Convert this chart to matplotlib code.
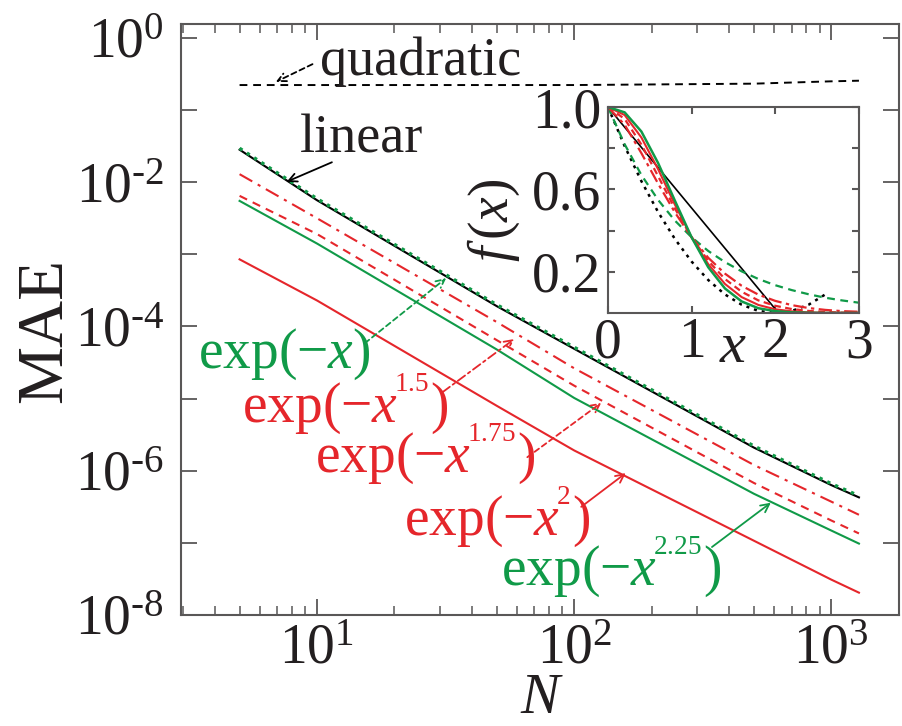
import matplotlib
matplotlib.use("Agg")
import matplotlib.pyplot as plt

plt.rcParams['font.family'] = ['Liberation Serif', 'DejaVu Serif']
plt.rcParams['mathtext.fontset'] = 'custom'
plt.rcParams['mathtext.rm'] = 'Liberation Serif'
plt.rcParams['mathtext.it'] = 'Liberation Serif:italic'
plt.rcParams['mathtext.bf'] = 'Liberation Serif:bold'

TXT = '#231f20'
AX = '#595757'
RED = '#e5262b'
GREEN = '#109a48'

# main panel: MAE vs N
N = [5, 10, 50, 100, 500, 1000, 1280]
mae_quadratic = [0.222, 0.222, 0.222, 0.222, 0.232, 0.250, 0.255]
mae_linear = [2.82e-2, 5.62e-3, 1.91e-4, 4.90e-5, 2.09e-6, 6.31e-7, 4.27e-7]
mae_exp1 = [2.95e-2, 5.9e-3, 2.0e-4, 5.15e-5, 2.2e-6, 6.6e-7, 4.5e-7]
mae_exp15 = [1.29e-2, 3.16e-3, 1.15e-4, 2.63e-5, 1.20e-6, 3.72e-7, 2.45e-7]
mae_exp175 = [6.46e-3, 1.91e-3, 6.46e-5, 1.51e-5, 6.76e-7, 2.04e-7, 1.35e-7]
mae_exp2 = [8.51e-4, 2.29e-4, 7.94e-6, 1.91e-6, 1.07e-7, 3.09e-8, 2.04e-8]
mae_exp225 = [5.50e-3, 1.41e-3, 4.79e-5, 1.02e-5, 4.79e-7, 1.48e-7, 9.77e-8]

ytick_vals = [1e0, 1e-1, 1e-2, 1e-3, 1e-4, 1e-5, 1e-6, 1e-7, 1e-8]
ytick_labels = [r'$10^{0}$', '', r'$10^{‐2}$', '', r'$10^{‐4}$', '', r'$10^{‐6}$', '', r'$10^{‐8}$']
xtick_vals = [10, 100, 1000]
xtick_labels = [r'$10^{1}$', r'$10^{2}$', r'$10^{3}$']

# inset: f(x)
xs = [0, 0.2, 0.4, 0.6, 0.8, 1.0, 1.2, 1.4, 1.6, 1.8, 2.0, 2.2, 2.4, 2.6, 2.8, 3.0]
f_exp1 = [1, .819, .670, .549, .449, .368, .301, .247, .202, .165, .135, .111, .091, .074, .061, .050]
f_exp15 = [1, .914, .776, .628, .489, .368, .268, .191, .132, .089, .059, .038, .024, .015, .009, .006]
f_exp175 = [1, .942, .818, .664, .508, .368, .253, .165, .103, .061, .035, .019, .010, .005, .002, .001]
f_exp2 = [1, .961, .852, .698, .527, .368, .237, .141, .077, .039, .018, .008, .003, .001, 0, 0]
f_exp225 = [1, .974, .881, .728, .546, .368, .222, .119, .056, .023, .009, .003, .001, 0, 0, 0]
xs_lin = [0, 2.0]
f_lin = [1, 0.02]
xs_quad = [0, 0.2, 0.4, 0.6, 0.8, 1.0, 1.2, 1.4, 1.6, 1.8, 2.0, 2.2, 2.4, 2.6]
f_quad = [1, .81, .64, .49, .36, .25, .16, .09, .04, .01, 0, .01, .04, .09]

fig = plt.figure(figsize=(9.02, 7.26), dpi=100)
ax = fig.add_axes([0.2007, 0.1529, 0.7965, 0.8141])

lw = 1.5
ax.plot(N, mae_quadratic, color='black', lw=1.4, ls=(0, (4, 3)))
ax.plot(N, mae_linear, color='black', lw=lw)
ax.plot(N, mae_exp1, color=GREEN, lw=2.4, ls=(0, (1, 1.6)))
ax.plot(N, mae_exp15, color=RED, lw=lw, ls=(0, (7, 3, 1.5, 3)))
ax.plot(N, mae_exp175, color=RED, lw=lw, ls=(0, (4, 3)))
ax.plot(N, mae_exp225, color=GREEN, lw=lw)
ax.plot(N, mae_exp2, color=RED, lw=lw)

ax.set_xscale('log')
ax.set_yscale('log')
ax.set_xlim(2.96, 1840)
ax.set_ylim(1e-8, 1.56)
ax.set_yticks(ytick_vals)
ax.set_yticklabels(ytick_labels)
ax.set_xticks(xtick_vals)
ax.set_xticklabels(xtick_labels)
ax.tick_params(which='both', direction='in', top=True, right=True, colors=AX,
               labelcolor=TXT, labelsize=40)
ax.tick_params(which='major', length=11.5, width=1.3)
ax.tick_params(which='minor', length=6.5, width=1.1)
ax.tick_params(axis='y', pad=12)
ax.tick_params(axis='x', pad=6)
for s in ax.spines.values():
    s.set_color(AX)
    s.set_linewidth(1.5)

fig.text(0.05, 0.545, 'MAE', rotation=90, ha='center', va='center', fontsize=47, color=TXT)
fig.text(0.599, 0.018, 'N', style='italic', ha='center', va='baseline', fontsize=42, color=TXT)

# labels and arrows (axes fraction)
labels = [
    ('quadratic', (0.194, 0.914), TXT, (0.183, 0.932), (0.132, 0.902), (0, (3, 2))),
    ('linear', (0.165, 0.782), TXT, (0.210, 0.766), (0.147, 0.733), '-'),
    (r'$\mathrm{exp}(-x)$', (0.024, 0.418), GREEN, (0.256, 0.460), (0.369, 0.570), (0, (3, 2))),
    (r'$\mathrm{exp}(-x^{\!{}^{1.5}})$', (0.085, 0.327), RED, (0.364, 0.377), (0.464, 0.467), (0, (5, 2, 1.5, 2))),
    (r'$\mathrm{exp}(-x^{\!{}^{1.75}})$', (0.186, 0.242), RED, (0.482, 0.267), (0.585, 0.359), (0, (3, 2))),
    (r'$\mathrm{exp}(-x^{\!{}^{2}})$', (0.311, 0.135), RED, (0.557, 0.183), (0.619, 0.240), '-'),
    (r'$\mathrm{exp}(-x^{\!{}^{2.25}})$', (0.446, 0.051), GREEN, (0.739, 0.115), (0.821, 0.190), '-'),
]
for text, pos, col, tail, tip, ls in labels:
    tc = 'black' if col == TXT else col
    ax.text(pos[0], pos[1], text, transform=ax.transAxes, ha='left', va='baseline',
            fontsize=39 if col == TXT else 40, color=col)
    ax.annotate('', xy=tip, xytext=tail, xycoords='axes fraction', textcoords='axes fraction',
                arrowprops=dict(arrowstyle='->,head_length=0.6,head_width=0.3', color=tc,
                                lw=1.3, linestyle=ls, shrinkA=0, shrinkB=0))

# inset
ax2 = fig.add_axes([0.674, 0.5689, 0.278, 0.2837])
ax2.plot(xs_lin, f_lin, color='black', lw=1.2)
ax2.plot(xs_quad, f_quad, color='black', lw=1.8, ls=(0, (1.2, 2)))
ax2.plot(xs, f_exp1, color=GREEN, lw=1.6, ls=(0, (3.5, 2.5)))
ax2.plot(xs, f_exp15, color=RED, lw=1.6, ls=(0, (6, 2, 1.5, 2)))
ax2.plot(xs, f_exp175, color=RED, lw=1.6, ls=(0, (3, 2)))
ax2.plot(xs, f_exp2, color=RED, lw=1.5)
ax2.plot(xs, f_exp225, color=GREEN, lw=1.8)
ax2.set_xlim(0, 3)
ax2.set_ylim(0, 1.0)
ax2.set_xticks([0, 1, 2, 3])
ax2.set_xticklabels(['0', '1', '2', '3'])
ax2.set_yticks([0.2, 0.4, 0.6, 0.8, 1.0])
ax2.set_yticklabels(['0.2', '', '0.6', '', '1.0'])
ax2.tick_params(direction='in', top=True, right=True, length=5, width=1.5, colors=AX,
                labelcolor=TXT, labelsize=40)
ax2.tick_params(axis='x', pad=3)
ax2.tick_params(axis='y', pad=5)
for s in ax2.spines.values():
    s.set_color(AX)
    s.set_linewidth(1.5)
ax2.text(1.49, -0.17, 'x', style='italic', ha='center', va='center', fontsize=42, color=TXT)
ax2.text(-1.36, 0.45, r'$f\,(x)$', rotation=90, ha='center', va='center', fontsize=40, color=TXT)

fig.savefig('out.png', dpi=100)
